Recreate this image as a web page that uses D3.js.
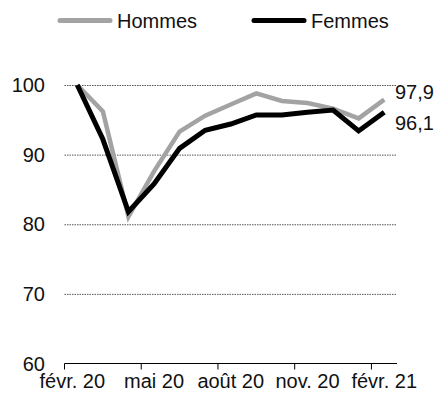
<!DOCTYPE html>
<html>
<head>
<meta charset="utf-8">
<script src="https://cdn.jsdelivr.net/npm/d3@7"></script>
<style>
  body { margin:0; background:#fff; }
  svg { font-family:"Liberation Sans", Arial, sans-serif; }
</style>
</head>
<body>
<svg id="chart" width="440" height="400"></svg>
<script>
'use strict';
const months = ['févr. 20','mars 20','avr. 20','mai 20','juin 20','juil. 20','août 20','sept. 20','oct. 20','nov. 20','déc. 20','janv. 21','févr. 21'];
const hommes = [100, 96.2, 81.1, 87.6, 93.3, 95.6, 97.2, 98.8, 97.7, 97.4, 96.6, 95.2, 97.9];
const femmes = [100, 92.2, 81.8, 85.8, 90.9, 93.5, 94.4, 95.7, 95.7, 96.1, 96.4, 93.4, 96.1];
const yTicks = [60, 70, 80, 90, 100];
const tickMonths = ['févr. 20','mai 20','août 20','nov. 20','févr. 21'];

const svg = d3.select('#chart');
const x = d3.scaleBand().domain(months).range([64.5, 397]).padding(0);
const y = d3.scaleLinear().domain([60, 100]).range([363.5, 85]);
const cx = d => x(d) + x.bandwidth()/2;

// grid
svg.append('g').selectAll('line').data(yTicks.filter(t => t > 60)).join('line')
  .attr('x1', 64.5).attr('x2', 397).attr('y1', d => y(d)+0.5).attr('y2', d => y(d)+0.5)
  .attr('stroke', '#555').attr('stroke-width', 1).attr('stroke-dasharray', '1.5,1');

// y labels
svg.append('g').selectAll('text').data(yTicks).join('text')
  .attr('x', 45).attr('y', d => y(d)).attr('dy', '0.36em').attr('text-anchor', 'end')
  .style('font-size', '20px').attr('fill', '#111').text(d => d);

// x axis
svg.append('line').attr('x1', 64.5).attr('x2', 397).attr('y1', y(60)).attr('y2', y(60))
  .attr('stroke', '#000').attr('stroke-width', 1);
svg.append('g').selectAll('line').data(tickMonths).join('line')
  .attr('x1', d => x(d)).attr('x2', d => x(d)).attr('y1', y(60)).attr('y2', y(60)+6)
  .attr('stroke', '#000').attr('stroke-width', 1);
svg.append('g').selectAll('text').data(tickMonths).join('text')
  .attr('x', (d, i) => cx(d) - (i === 0 ? 5 : 0)).attr('y', 388).attr('text-anchor', 'middle')
  .style('font-size', '20px').attr('fill', '#111').text(d => d);

// lines
const line = d3.line().x((d, i) => cx(months[i])).y(d => y(d));
svg.append('path').datum(hommes).attr('d', line).attr('fill', 'none')
  .attr('stroke', '#a3a3a3').attr('stroke-width', 4.5).attr('stroke-linejoin', 'miter');
svg.append('path').datum(femmes).attr('d', line).attr('fill', 'none')
  .attr('stroke', '#000').attr('stroke-width', 5).attr('stroke-linejoin', 'miter');

// end labels
const last = months.length - 1;
const fmt = v => String(v).replace('.', ',');
svg.append('text').attr('x', 395).attr('y', y(hommes[last]) - 7.5).attr('dy', '0.36em')
  .style('font-size', '20px').attr('fill', '#111').text(fmt(hommes[last]));
svg.append('text').attr('x', 395).attr('y', y(femmes[last]) + 11).attr('dy', '0.36em')
  .style('font-size', '20px').attr('fill', '#111').text(fmt(femmes[last]));

// legend
const legend = [{ name:'Hommes', color:'#a3a3a3', x:58 }, { name:'Femmes', color:'#000', x:252 }];
const lg = svg.append('g').selectAll('g').data(legend).join('g');
lg.append('line').attr('x1', d => d.x+2).attr('x2', d => d.x+52).attr('y1', 20.5).attr('y2', 20.5)
  .attr('stroke', d => d.color).attr('stroke-width', 5).attr('stroke-linecap', 'round');
lg.append('text').attr('x', d => d.x+59).attr('y', 28).style('font-size', '20px').attr('fill', '#111').text(d => d.name);
</script>
</body>
</html>
